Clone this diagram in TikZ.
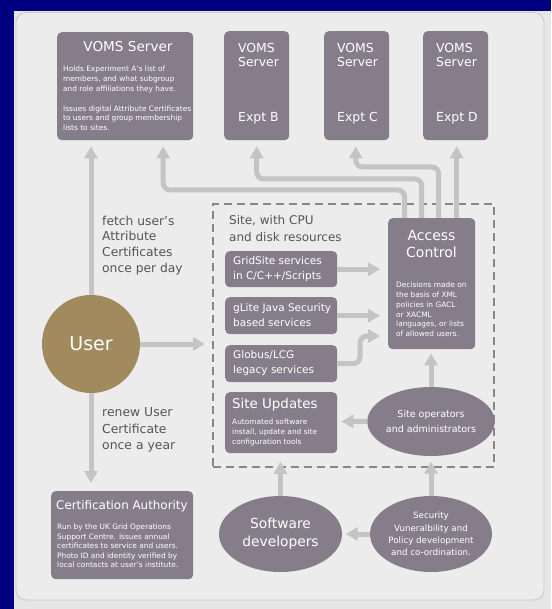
\documentclass[tikz,border=0pt]{standalone}
\usepackage{fontspec}
\setmainfont{DejaVu Sans}
\usetikzlibrary{arrows.meta,shapes.geometric}
\definecolor{navyframe}{RGB}{0,0,128}
\definecolor{pagebg}{RGB}{230,230,230}
\definecolor{panelbg}{RGB}{236,236,236}
\definecolor{panelline}{RGB}{200,200,200}
\definecolor{boxfill}{RGB}{134,125,139}
\definecolor{usergold}{RGB}{160,138,94}
\definecolor{pipegray}{RGB}{196,196,196}
\definecolor{dashgray}{RGB}{135,135,135}
\definecolor{labelgray}{RGB}{85,85,85}
\newcommand{\fsz}[2]{\fontsize{#1}{#2}\selectfont}
\begin{document}
\begin{tikzpicture}[x=1pt,y=-1pt,
  box/.style={fill=boxfill, draw=none, rounded corners=4.5pt, inner sep=0pt, anchor=north west},
  ell/.style={ellipse, fill=boxfill, draw=none, inner sep=0pt, text=white, align=center},
  wtext/.style={text=white, inner sep=0pt},
  small/.style={wtext, font=\fsz{7.4}{9.8}, align=left, anchor=west},
  lbl/.style={text=labelgray, inner sep=0pt, align=left, anchor=west},
  pipe/.style={draw=pipegray, line width=5pt, -{Triangle[width=13pt,length=12pt]}, rounded corners=7pt},
  sitebox/.style={draw=dashgray, line width=1.6pt, dash pattern=on 8pt off 5pt, inner sep=0pt, anchor=north west},
]
\useasboundingbox (0,0) rectangle (551,609);
\fill[navyframe] (0,0) rectangle (551,609);
\fill[pagebg] (14,11) rectangle (551,609);
\draw[panelline, fill=panelbg, rounded corners=10pt, line width=0.8pt] (16,12.5) rectangle (544,600);

% dashed site area
\node[sitebox, minimum width=281pt, minimum height=263pt] (site) at (212,203) {};
\node[lbl, font=\fsz{12}{16.5}] (sitelbl) at (229,228.5) {Site, with CPU\\and disk resources};

% VOMS servers
\node[box, minimum width=136pt, minimum height=108pt] (vomsA) at (57,32) {};
\node[wtext, font=\fsz{13.6}{16}] (vomsAt) at (128,47) {VOMS Server};
\node[small] (vomsAb) at (63,98.5) {Holds Experiment A’s list of\\members, and what subgroup\\and role affiliations they have.\\[9.8pt]Issues digital Attribute Certificates\\to users and group membership\\lists to sites.};

\node[box, minimum width=65pt, minimum height=109pt] (vomsB) at (224,31) {};
\node[wtext, font=\fsz{12.4}{14}, align=left, anchor=west] (vomsBt) at (238,55) {VOMS\\Server};
\node[wtext, font=\fsz{12.4}{14}, anchor=west] (vomsBe) at (238,118) {Expt B};

\node[box, minimum width=65pt, minimum height=109pt] (vomsC) at (324,31) {};
\node[wtext, font=\fsz{12.4}{14}, align=left, anchor=west] (vomsCt) at (337,55) {VOMS\\Server};
\node[wtext, font=\fsz{12.4}{14}, anchor=west] (vomsCe) at (337,118) {Expt C};

\node[box, minimum width=65pt, minimum height=109pt] (vomsD) at (423,31) {};
\node[wtext, font=\fsz{12.4}{14}, align=left, anchor=west] (vomsDt) at (436,55) {VOMS\\Server};
\node[wtext, font=\fsz{12.4}{14}, anchor=west] (vomsDe) at (436,118) {Expt D};

% user
\node[circle, fill=usergold, minimum size=98pt, inner sep=0pt, text=white, font=\fsz{19}{22}] (user) at (91,344) {User};
\node[lbl, font=\fsz{12.3}{15.8}] (fetchlbl) at (102,245.5) {fetch user’s\\Attribute\\Certificates\\once per day};
\node[lbl, font=\fsz{12.4}{16.7}] (renewlbl) at (102,430) {renew User\\Certificate\\once a year};

% site services
\node[box, minimum width=112pt, minimum height=36pt] (grid) at (225,251) {};
\node[wtext, font=\fsz{10.5}{15}, align=left, anchor=west] (gridt) at (233,269.5) {GridSite services\\in C/C++/Scripts};
\node[box, minimum width=112pt, minimum height=37pt] (glite) at (225,297) {};
\node[wtext, font=\fsz{10.5}{15}, align=left, anchor=west] (glitet) at (233,315.5) {gLite Java Security\\based services};
\node[box, minimum width=112pt, minimum height=37pt] (globus) at (225,345) {};
\node[wtext, font=\fsz{10.5}{15}, align=left, anchor=west] (globust) at (233,363.5) {Globus/LCG\\legacy services};
\node[box, minimum width=112pt, minimum height=61pt] (updates) at (225,392) {};
\node[wtext, font=\fsz{13.4}{16}, anchor=west] (updatest) at (232,405) {Site Updates};
\node[small, font=\fsz{7.4}{10}] (updatesb) at (232,432) {Automated software\\install, update and site\\configuration tools};

% access control
\node[box, minimum width=87pt, minimum height=131pt] (access) at (388,218) {};
\node[wtext, font=\fsz{14}{17.7}, align=center] (accesst) at (431.5,244) {Access\\Control};
\node[small] (accessb) at (396,309.5) {Decisions made on\\the basis of XML\\policies in GACL\\or XACML\\languages, or lists\\of allowed users.};

% certification authority
\node[box, minimum width=142pt, minimum height=88pt] (ca) at (51,491) {};
\node[wtext, font=\fsz{11.9}{14}, anchor=west] (cat) at (56,506) {Certification Authority};
\node[small, font=\fsz{7.4}{9.6}] (cab) at (57,546) {Run by the UK Grid Operations\\Support Centre. Issues annual\\certificates to service and users.\\Photo ID and identity verified by\\local contacts at user’s institute.};

% ellipses
\node[ell, minimum width=123pt, minimum height=76pt, font=\fsz{13.8}{18}] (dev) at (280.5,534) {Software\\developers};
\node[ell, minimum width=122pt, minimum height=76pt, font=\fsz{8.7}{12.2}] (security) at (431,534) {Security\\Vuneralbility and\\Policy development\\and co-ordination.};
\node[ell, minimum width=104pt, minimum height=69pt, font=\fsz{9.5}{14.3}] (siteops) at (431,421.5) {Site operators\\and administrators};

% connectors
\draw[pipe, shorten >=6pt] (user.north) -- (user.north |- vomsA.south);
\draw[pipe, shorten >=8pt] (user.south) -- (user.south |- ca.north);
\draw[pipe, shorten >=7pt] (user.east) -- (user.east -| site.west);
\draw[pipe, shorten >=8pt] (grid.east) -- (grid.east -| access.west);
\draw[pipe, shorten >=8pt] (glite.east) -- (glite.east -| access.west);
\coordinate (gy) at (0,336);
\coordinate (gx) at (360,0);
\draw[pipe, shorten >=8pt] (globus.east) -| (gx |- gy) -- (access.west |- gy);
\draw[pipe, shorten >=4pt] (siteops.north) -- (siteops.north |- access.south);
\draw[pipe, shorten >=4pt] (siteops.west) -- (siteops.west -| updates.east);
\draw[pipe, shorten >=-6pt] (security.north) -- (security.north |- site.south);
\draw[pipe, shorten >=8.5pt] (dev.north) -- (dev.north |- updates.south);
\draw[pipe, shorten >=3.5pt] (security.west) -- (dev.east);

\coordinate (pa) at ([xshift=-27pt]access.north);
\coordinate (pb) at ([xshift=-10pt]access.north);
\coordinate (pc) at ([xshift=7pt]access.north);
\coordinate (pd) at ([xshift=25pt]access.north);
\coordinate (ya) at (0,190);
\coordinate (yb) at (0,179);
\coordinate (yc) at (0,167);
\coordinate (ta) at ([xshift=38pt]vomsA.south);
\draw[pipe, shorten >=6pt] (pa) |- (ta |- ya) -- (ta);
\draw[pipe, shorten >=6pt] (pb) |- (vomsB.south |- yb) -- (vomsB.south);
\draw[pipe, shorten >=6pt] (pc) |- ([xshift=-1pt]vomsC.south |- yc) -- ([xshift=-1pt]vomsC.south);
\draw[pipe, shorten >=6pt] (pd) -- (pd |- vomsD.south);
\end{tikzpicture}
\end{document}
